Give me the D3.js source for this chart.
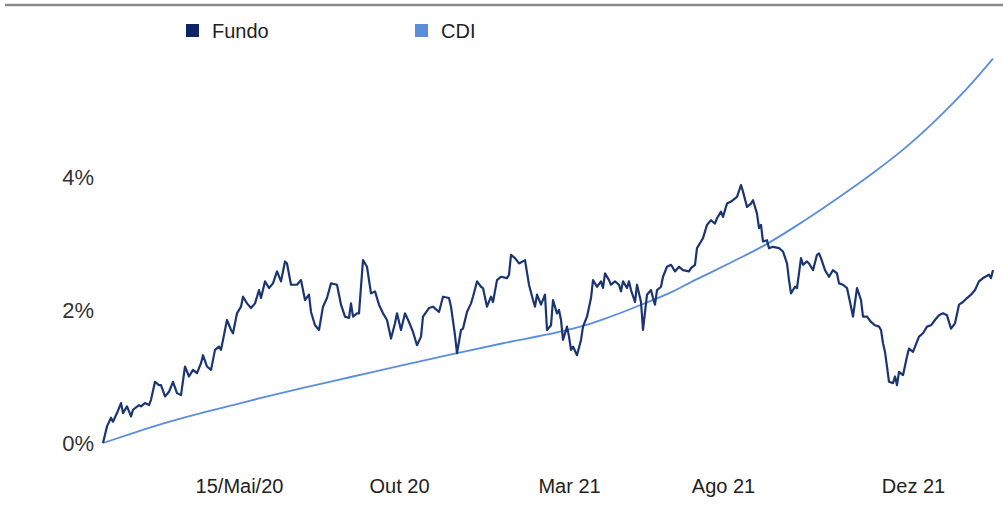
<!DOCTYPE html>
<html lang="pt">
<head>
  <meta charset="UTF-8" />
  <title>Fundo x CDI</title>
  <style>
    html, body { margin: 0; padding: 0; background: #fff; }
    svg { display: block; font-family: "Liberation Sans", Arial, sans-serif; }
  </style>
</head>
<body>
  <div id="chart"></div>
  <script src="https://d3js.org/d3.v7.min.js"></script>
  <script>
    // retorno acumulado (%) por dia útil
    const fundo = [
      [0,0.00],[2,0.25],[4,0.38],[5,0.32],[7,0.45],[9,0.60],[10,0.45],[12,0.55],[14,0.40],[15,0.50],
      [18,0.57],[19,0.55],[21,0.60],[23,0.57],[24,0.65],[26,0.92],[28,0.87],[29,0.87],[31,0.70],[33,0.77],
      [35,0.92],[37,0.75],[39,0.72],[41,1.15],[43,1.00],[45,1.10],[47,1.05],[49,1.20],[50,1.32],[52,1.15],
      [54,1.10],[56,1.40],[58,1.45],[59,1.40],[62,1.85],[64,1.70],[65,1.65],[67,1.95],[69,2.05],[70,2.20],
      [72,2.10],[74,2.03],[76,2.10],[78,2.30],[79,2.18],[81,2.43],[83,2.33],[85,2.40],[87,2.58],[89,2.43],
      [91,2.73],[92,2.70],[94,2.38],[97,2.38],[99,2.45],[101,2.15],[103,2.23],[104,1.97],[106,1.77],[108,1.70],
      [110,2.05],[112,2.18],[114,2.40],[117,2.38],[119,2.08],[121,1.90],[123,1.88],[124,2.10],[125,1.90],[127,1.95],
      [128,1.95],[130,2.75],[132,2.65],[134,2.25],[136,2.28],[138,2.08],[140,1.95],[142,1.85],[144,1.57],[146,1.80],
      [147,1.95],[149,1.70],[151,1.95],[153,1.82],[155,1.67],[157,1.47],[159,1.60],[160,1.90],[163,2.03],[165,2.05],
      [168,1.97],[170,2.20],[173,2.18],[174,2.05],[176,1.62],[177,1.35],[179,1.70],[180,1.72],[182,1.97],[184,2.10],
      [185,2.20],[187,2.43],[189,2.35],[190,2.33],[192,2.05],[194,2.20],[195,2.12],[197,2.45],[199,2.50],[202,2.48],
      [203,2.53],[204,2.83],[206,2.78],[208,2.70],[211,2.75],[213,2.38],[215,2.15],[216,2.05],[217,2.23],[219,2.08],
      [221,2.23],[222,1.70],[224,1.77],[225,2.15],[227,1.95],[228,2.00],[229,1.85],[230,1.55],[232,1.75],[233,1.60],
      [234,1.40],[235,1.45],[237,1.32],[239,1.55],[240,1.75],[242,1.90],[244,2.18],[245,2.45],[247,2.35],[249,2.43],
      [250,2.33],[251,2.55],[253,2.45],[254,2.38],[256,2.43],[258,2.38],[259,2.28],[260,2.43],[262,2.33],[263,2.43],
      [264,2.30],[266,2.12],[267,2.38],[269,2.12],[270,1.70],[272,2.23],[274,2.30],[275,2.18],[276,2.08],[277,2.30],
      [279,2.35],[280,2.50],[282,2.65],[284,2.68],[286,2.58],[288,2.65],[290,2.60],[293,2.58],[294,2.63],[296,2.68],
      [297,2.93],[299,3.03],[300,3.08],[302,3.28],[304,3.35],[306,3.30],[307,3.38],[309,3.48],[310,3.40],[312,3.60],
      [314,3.63],[317,3.70],[319,3.88],[320,3.78],[322,3.55],[324,3.60],[325,3.65],[327,3.45],[328,3.23],[329,3.28],
      [330,3.03],[332,3.05],[333,2.93],[335,2.95],[338,2.93],[340,2.88],[342,2.70],[343,2.45],[344,2.25],[346,2.35],
      [347,2.33],[349,2.78],[350,2.68],[352,2.73],[353,2.70],[355,2.60],[357,2.83],[358,2.85],[359,2.78],[361,2.60],
      [363,2.50],[365,2.60],[367,2.55],[368,2.40],[370,2.38],[372,2.33],[374,2.05],[375,1.90],[377,2.33],[379,2.15],
      [380,1.90],[382,1.90],[384,1.82],[386,1.77],[388,1.75],[389,1.70],[390,1.50],[391,1.37],[392,1.15],[393,0.92],
      [395,0.90],[396,1.00],[397,0.87],[398,1.07],[400,1.02],[402,1.30],[403,1.42],[405,1.37],[408,1.60],[410,1.65],
      [412,1.75],[414,1.77],[416,1.85],[418,1.92],[420,1.95],[422,1.92],[424,1.72],[426,1.80],[428,2.08],[430,2.12],
      [432,2.18],[434,2.23],[436,2.30],[438,2.43],[440,2.48],[443,2.53],[444,2.48],[445,2.60]
    ];

    const cdi = [
      [0,0],[15,0.15],[32,0.31],[49,0.45],[65,0.57],[78,0.67],[100,0.83],[125,1.00],[150,1.17],[177,1.35],
      [200,1.50],[228,1.67],[240,1.76],[250,1.86],[260,1.97],[270,2.09],[285,2.28],[294,2.42],[303,2.55],
      [315,2.73],[330,2.96],[350,3.33],[373,3.80],[385,4.06],[402,4.46],[419,4.93],[435,5.43],[445,5.78]
    ];

    const seriesNames = ['Fundo', 'CDI'];
    const seriesColors = ['#0c2466', '#5b8ddd'];
    const yTicks = [0, 2, 4];
    const xTickDays = [68, 148, 233, 310, 405];
    const xTickLabels = ['15/Mai/20', 'Out 20', 'Mar 21', 'Ago 21', 'Dez 21'];

    const width = 1003, height = 508;

    const svg = d3.select('#chart').append('svg')
      .attr('width', width)
      .attr('height', height);

    const x = d3.scaleLinear().domain([0, 445]).range([103, 993]);
    const y = d3.scaleLinear().domain([0, 6]).range([443, 44]);

    // linha cinza no topo
    svg.append('line')
      .attr('x1', 5).attr('x2', width)
      .attr('y1', 5).attr('y2', 5)
      .attr('stroke', '#8a8a8a')
      .attr('stroke-width', 2.5);

    // eixo Y
    const yAxis = svg.append('g')
      .attr('transform', `translate(${x(0)},0)`)
      .call(d3.axisLeft(y).tickValues(yTicks).tickFormat(d => d + '%').tickSize(0).tickPadding(9));
    yAxis.select('.domain').remove();
    yAxis.selectAll('text')
      .attr('font-size', 22)
      .attr('fill', '#333')
      .attr('font-family', '"Liberation Sans", Arial, sans-serif');

    // eixo X
    const xAxis = svg.append('g')
      .attr('transform', `translate(0,${y(0)})`)
      .call(d3.axisBottom(x).tickValues(xTickDays).tickFormat((d, i) => xTickLabels[i]).tickSize(0).tickPadding(36));
    xAxis.select('.domain').remove();
    xAxis.selectAll('text')
      .attr('font-size', 20)
      .attr('fill', '#222')
      .attr('font-family', '"Liberation Sans", Arial, sans-serif');

    const line = d3.line()
      .x(d => x(d[0]))
      .y(d => y(d[1]));

    svg.append('path')
      .datum(cdi)
      .attr('fill', 'none')
      .attr('stroke', seriesColors[1])
      .attr('stroke-width', 1.8)
      .attr('d', line.curve(d3.curveMonotoneX));

    svg.append('path')
      .datum(fundo)
      .attr('fill', 'none')
      .attr('stroke', '#1a3572')
      .attr('stroke-width', 2.2)
      .attr('stroke-linejoin', 'round')
      .attr('d', line.curve(d3.curveLinear));

    // legenda
    const legendX = [186, 415];
    const legend = svg.append('g');
    seriesNames.forEach((name, i) => {
      legend.append('rect')
        .attr('x', legendX[i]).attr('y', 24)
        .attr('width', 13).attr('height', 13)
        .attr('fill', seriesColors[i]);
      legend.append('text')
        .attr('x', legendX[i] + 26).attr('y', 38)
        .attr('font-size', 20)
        .attr('fill', '#222')
        .text(name);
    });
  </script>
</body>
</html>
